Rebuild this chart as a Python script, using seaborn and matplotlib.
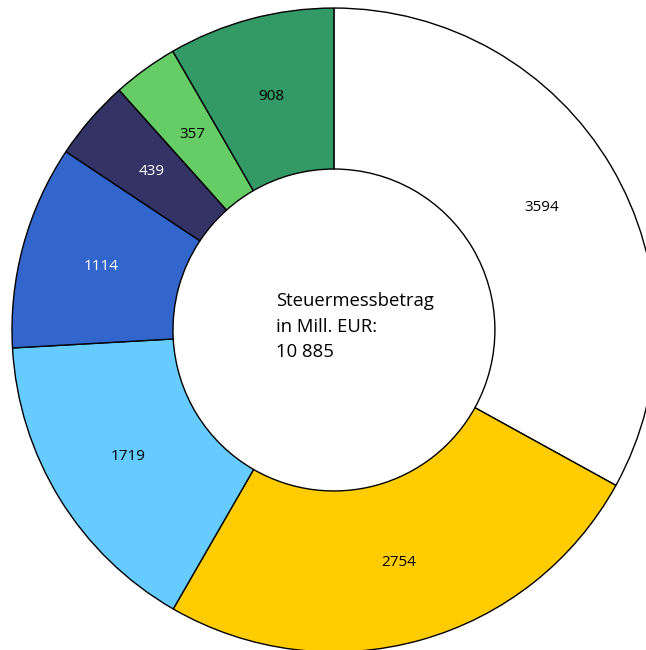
import matplotlib
matplotlib.use("Agg")
import matplotlib.pyplot as plt
import seaborn as sns

# data
werte = [3594, 2754, 1719, 1114, 439, 357, 908]
farben = ["#FFFFFF", "#FFCC00", "#66CCFF", "#3366CC", "#333366", "#66CC66", "#339966"]
textfarben = ["black", "black", "black", "white", "white", "black", "black"]
summe_text = "Steuermessbetrag\nin Mill. EUR:\n10 885"

sns.set_theme(style="white")
plt.rcParams['font.family'] = ['Open Sans', 'DejaVu Sans']

fig = plt.figure(figsize=(6.46, 6.5), dpi=100)
ax = fig.add_axes([0, 0, 1, 1])

wedges, texts = ax.pie(werte, colors=farben, startangle=90, counterclock=False,
                       radius=1.0, labels=[str(w) for w in werte], labeldistance=0.75,
                       wedgeprops=dict(width=0.5, edgecolor="black", linewidth=1.0),
                       textprops=dict(fontsize=11))
for t, c in zip(texts, textfarben):
    t.set_color(c)
    t.set_ha("center")
    t.set_va("center")

# text in the hole
ax.text(-0.18, 0.01, summe_text, ha="left", va="center", fontsize=13.3,
        linespacing=1.55, color="black")

ax.set_aspect("equal")
ax.set_xlim(-1.037, 0.969)
ax.set_ylim(-0.994, 1.025)
ax.axis("off")

fig.savefig("out.png", dpi=100, facecolor="white")
